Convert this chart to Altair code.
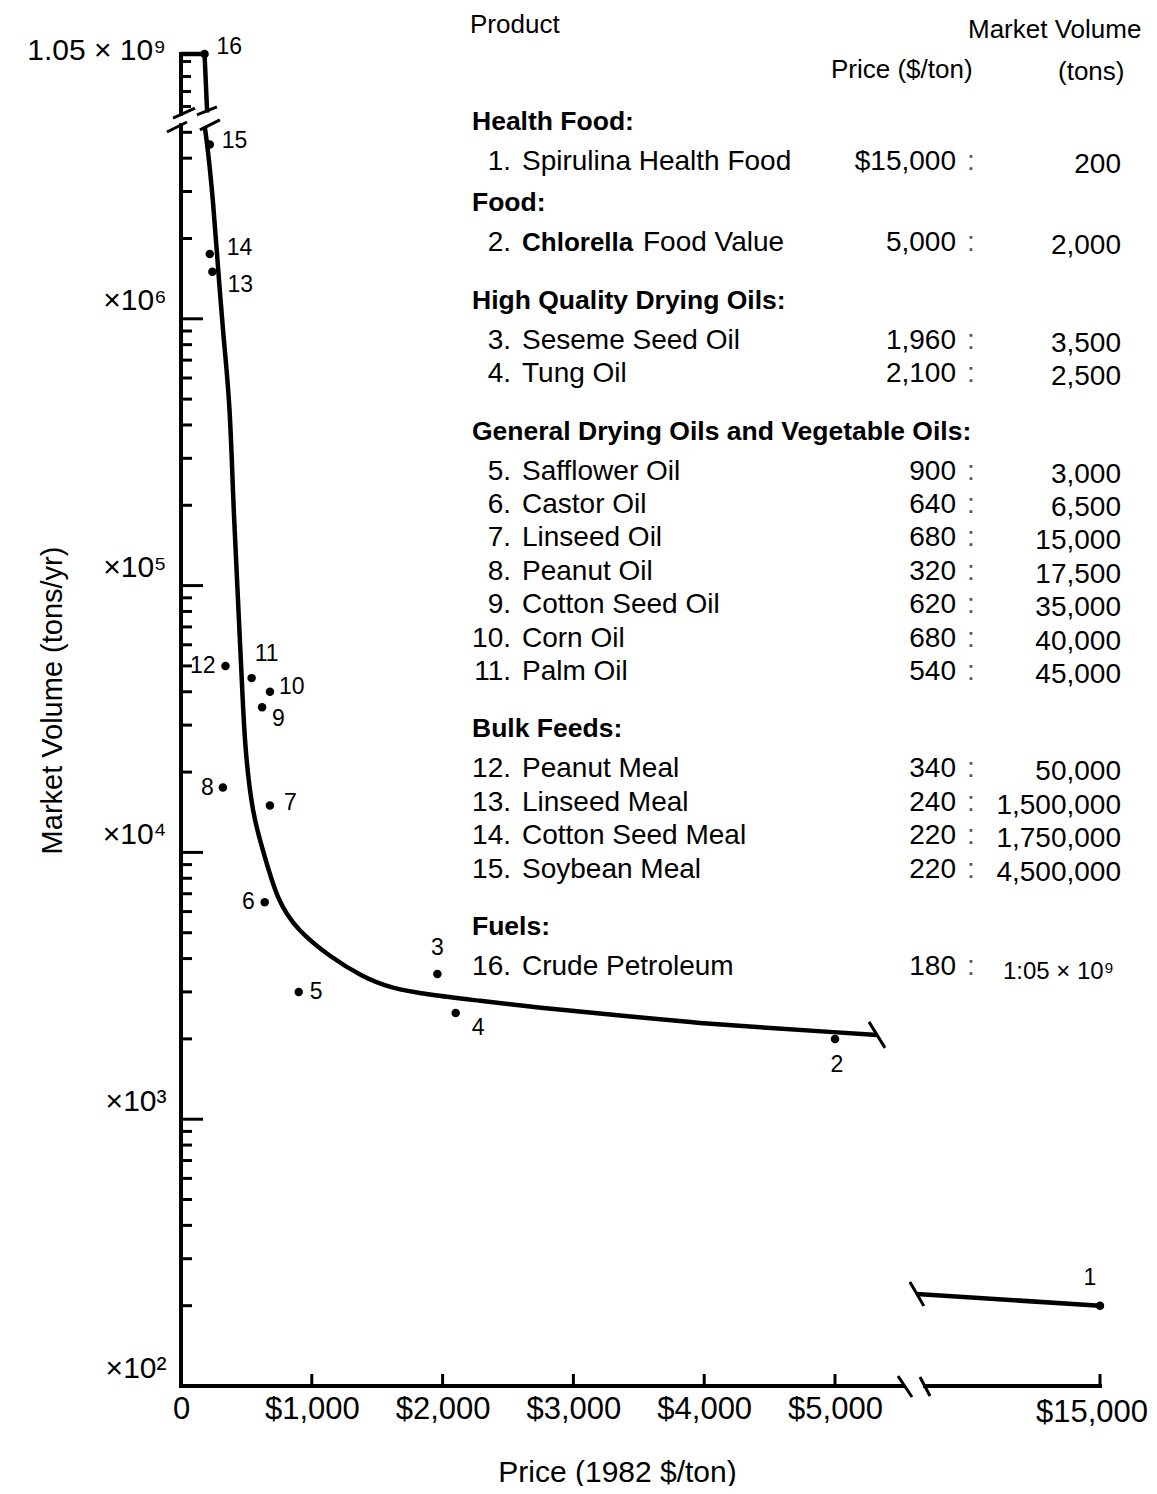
import altair as alt
import pandas as pd

# ---------------- data ----------------
product_ids = list(range(1, 17))
product_names = ["Spirulina Health Food", "Chlorella Food Value", "Seseme Seed Oil", "Tung Oil",
                 "Safflower Oil", "Castor Oil", "Linseed Oil", "Peanut Oil", "Cotton Seed Oil",
                 "Corn Oil", "Palm Oil", "Peanut Meal", "Linseed Meal", "Cotton Seed Meal",
                 "Soybean Meal", "Crude Petroleum"]
prices = [15000, 5000, 1960, 2100, 900, 640, 680, 320, 620, 680, 540, 340, 240, 220, 220, 180]
volumes = [200, 2000, 3500, 2500, 3000, 6500, 15000, 17500, 35000, 40000, 45000, 50000,
           1500000, 1750000, 4500000, 1.05e9]
price_labels = ["$15,000", "5,000", "1,960", "2,100", "900", "640", "680", "320", "620", "680",
                "540", "340", "240", "220", "220", "180"]
volume_labels = ["200", "2,000", "3,500", "2,500", "3,000", "6,500", "15,000", "17,500", "35,000",
                 "40,000", "45,000", "50,000", "1,500,000", "1,750,000", "4,500,000", "1:05 × 10⁹"]
group_names = ["Health Food:", "Food:", "High Quality Drying Oils:",
               "General Drying Oils and Vegetable Oils:", "Bulk Feeds:", "Fuels:"]
product_group = [0, 1, 2, 2, 3, 3, 3, 3, 3, 3, 3, 4, 4, 4, 4, 5]

# hand-drawn trend curve
curve_prices = [183, 206, 245, 283, 321, 375, 398, 436, 466, 489, 550, 627, 734, 887, 1139,
                1391, 1598, 1904, 2286, 2668, 2951, 3456, 3968, 4480, 4985, 5321]
curve_volumes = [5.19e6, 4.30e6, 2.79e6, 1.56e6, 8.85e5, 4.83e5, 2.09e5, 8.83e4, 4.32e4, 2.42e4,
                 1.36e4, 1.02e4, 6.62e3, 5.12e3, 4.06e3, 3.41e3, 3.10e3, 2.92e3, 2.78e3, 2.64e3,
                 2.56e3, 2.42e3, 2.29e3, 2.20e3, 2.12e3, 2.07e3]
upper_curve_prices = [0, 180, 200]
upper_curve_volumes = [1.05e9, 1.05e9, 0.66e9]
spirulina_curve_prices = [13600, 15000]
spirulina_curve_volumes = [221, 200]

x_label_values = [0, 1000, 2000, 3000, 4000, 5000]
y_label_values = [1e2, 1e3, 1e4, 1e5, 1e6]
y_label_texts = ["×10²", "×10³", "×10⁴", "×10⁵", "×10⁶"]
upper_tick_values = [1.0e9, 0.9e9, 0.8e9, 0.7e9]

# ---------------- layout constants ----------------
FONT = "Liberation Sans"
OX, OY = 181, 52            # page position of the plot origin
W, H = 934, 1334
PX_PER_USD = 0.1308
TOP_PX_PER_UNIT = 150 / 1e9
MAIN_X_END = 5520
MAIN_Y_END = 5.32e6
UPPER_Y_END = 0.65e9
RIGHT_X_START = 13662

XM = alt.Scale(domain=[0, W / PX_PER_USD], nice=False, zero=False)
YM = alt.Scale(type="log", domain=[100, 1e7], nice=False)
top_hi = 1.05e9 + 2 / TOP_PX_PER_UNIT
YT = alt.Scale(domain=[top_hi - H / TOP_PX_PER_UNIT, top_hi], nice=False, zero=False)
XR = alt.Scale(domain=[15000 - (1100 - OX) / PX_PER_USD, 15000 + (OX + W - 1100) / PX_PER_USD],
               nice=False, zero=False)

ylabel_expr = " : ".join(f"datum.value < {v * 3:g} ? '{t}'" for v, t in zip(y_label_values, y_label_texts)) + " : ''"

AXIS_X = alt.Axis(values=x_label_values,
                  labelExpr="datum.value == 0 ? '0' : '$' + format(datum.value, ',')",
                  domain=False, ticks=False, grid=False, labelFont=FONT, labelFontSize=31,
                  labelColor="black", labelPadding=8, labelFlush=False, labelOverlap=False,
                  title="Price (1982 $/ton)", titleFont=FONT, titleFontSize=30,
                  titleFontWeight="normal", titleColor="black", titleX=436, titleY=86,
                  titleBaseline="middle")
AXIS_Y = alt.Axis(values=y_label_values, labelExpr=ylabel_expr, domain=False, ticks=False,
                  grid=False, labelFont=FONT, labelFontSize=30, labelColor="black",
                  labelPadding=15, labelOffset=-18, labelFlush=False, labelOverlap=False,
                  title="Market Volume (tons/yr)", titleFont=FONT, titleFontSize=29,
                  titleFontWeight="normal", titleColor="black", titleX=-129, titleY=648,
                  titleAngle=270, titleBaseline="middle")


def xm(f="price"):
    return alt.X(f"{f}:Q", scale=XM, axis=AXIS_X)


def ym(f="volume"):
    return alt.Y(f"{f}:Q", scale=YM, axis=AXIS_Y)


def xt(f="price"):
    return alt.X(f"{f}:Q", scale=XM, axis=None)


def yt(f="volume"):
    return alt.Y(f"{f}:Q", scale=YT, axis=None)


def xr(f="price"):
    return alt.X(f"{f}:Q", scale=XR, axis=None)


def yr(f="volume"):
    return alt.Y(f"{f}:Q", scale=YM, axis=None)


points = pd.DataFrame({"id": product_ids, "price": prices, "volume": volumes,
                       "label": [str(i) for i in product_ids]})
curve = pd.DataFrame({"price": curve_prices, "volume": curve_volumes})
upper_curve = pd.DataFrame({"price": upper_curve_prices, "volume": upper_curve_volumes})
spirulina_curve = pd.DataFrame({"price": spirulina_curve_prices, "volume": spirulina_curve_volumes})

minor_y = [m * 10 ** e for e in range(2, 7) for m in range(2, 10) if m * 10 ** e <= MAIN_Y_END]
major_y = [1e3, 1e4, 1e5, 1e6]


def seg(**cols):
    return pd.DataFrame({k: [v] for k, v in cols.items()})


STROKE = dict(color="black", strokeWidth=4, strokeCap="square")
LINE_W = 4.5
DOT = 72

# ---------------- main panel ----------------
main_layers = []
main_layers.append(alt.Chart(seg(price=0, volume=100, v2=MAIN_Y_END)).mark_rule(**STROKE)
                   .encode(x=xm(), y=ym(), y2="v2:Q"))
main_layers.append(alt.Chart(seg(price=0, p2=MAIN_X_END, volume=100)).mark_rule(**STROKE)
                   .encode(x=xm(), x2="p2:Q", y=ym()))
main_layers.append(alt.Chart(pd.DataFrame({"price": 0, "volume": minor_y}))
                   .mark_rule(color="black", strokeWidth=3, x2Offset=11)
                   .encode(x=xm(), x2="price:Q", y=ym(), y2="volume:Q"))
main_layers.append(alt.Chart(pd.DataFrame({"price": 0, "volume": major_y}))
                   .mark_rule(color="black", strokeWidth=3, x2Offset=22)
                   .encode(x=xm(), x2="price:Q", y=ym(), y2="volume:Q"))
main_layers.append(alt.Chart(pd.DataFrame({"price": x_label_values[1:], "volume": 100}))
                   .mark_rule(color="black", strokeWidth=3, y2Offset=-12)
                   .encode(x=xm(), y=ym(), y2="volume:Q"))
main_layers.append(alt.Chart(curve).mark_line(color="black", strokeWidth=LINE_W, interpolate="basis")
                   .encode(x=xm(), y=ym()))
main_layers.append(alt.Chart(points).transform_filter("datum.id != 1 && datum.id != 16")
                   .mark_circle(size=DOT, color="black", opacity=1).encode(x=xm(), y=ym()))

label_style = {2: ("center", 2, 26), 3: ("center", 0, -26), 4: ("left", 16, 15),
               5: ("left", 11, 0), 6: ("right", -10, 0), 7: ("left", 14, -2),
               8: ("right", -9, 0), 9: ("left", 10, 12), 10: ("left", 9, -5),
               11: ("center", 15, -24), 12: ("right", -10, 0), 13: ("left", 15, 13),
               14: ("left", 17, -6), 15: ("left", 12, -4)}
for pid, (al, dx, dy) in label_style.items():
    main_layers.append(alt.Chart(points).transform_filter(f"datum.id == {pid}")
                       .mark_text(align=al, dx=dx, dy=dy, font=FONT, fontSize=23, color="black")
                       .encode(x=xm(), y=ym(), text="label:N"))


def slash(x_enc, y_enc, x2f, y2f, data, ox1, oy1, ox2, oy2):
    return (alt.Chart(data)
            .mark_rule(color="black", strokeWidth=3, xOffset=ox1, yOffset=oy1,
                       x2Offset=ox2, y2Offset=oy2)
            .encode(x=x_enc, x2=x2f, y=y_enc, y2=y2f))


axis_break = seg(price=0, volume=5.56e6)
curve_break = seg(price=206, volume=5.66e6)
curve_end = seg(price=5321, volume=2.07e3)
xaxis_break = seg(price=5535, volume=100)
main_layers += [
    slash(xm(), ym(), "price:Q", "volume:Q", axis_break, -8, -2, 14, -12),
    slash(xm(), ym(), "price:Q", "volume:Q", axis_break, -14, 12, 6, 2),
    slash(xm(), ym(), "price:Q", "volume:Q", curve_break, -11, -3, 9, -11),
    slash(xm(), ym(), "price:Q", "volume:Q", curve_break, -8, 12, 12, 2),
    slash(xm(), ym(), "price:Q", "volume:Q", curve_end, -8, -13, 8, 13),
    slash(xm(), ym(), "price:Q", "volume:Q", xaxis_break, -7, -10, 7, 11),
]
main = alt.layer(*main_layers)

# ---------------- upper (broken) segment ----------------
upper = alt.layer(
    alt.Chart(seg(price=0, volume=1.05e9, v2=UPPER_Y_END)).mark_rule(**STROKE)
    .encode(x=xt(), y=yt(), y2="v2:Q"),
    alt.Chart(pd.DataFrame({"price": 0, "volume": upper_tick_values}))
    .mark_rule(color="black", strokeWidth=3, x2Offset=10)
    .encode(x=xt(), x2="price:Q", y=yt(), y2="volume:Q"),
    alt.Chart(upper_curve).mark_line(color="black", strokeWidth=LINE_W).encode(x=xt(), y=yt()),
    alt.Chart(points).transform_filter("datum.id == 16")
    .mark_circle(size=DOT, color="black", opacity=1).encode(x=xt(), y=yt()),
    alt.Chart(points).transform_filter("datum.id == 16")
    .mark_text(align="left", dx=12, dy=-7, font=FONT, fontSize=23, color="black")
    .encode(x=xt(), y=yt(), text="label:N"),
    alt.Chart(seg(price=0, volume=1.05e9, t="1.05  ×   10⁹"))
    .mark_text(align="right", dx=-15, dy=-3, font=FONT, fontSize=30, color="black")
    .encode(x=xt(), y=yt(), text="t:N"),
)

# ---------------- right (broken) segment: Spirulina ----------------
right = alt.layer(
    alt.Chart(seg(price=RIGHT_X_START, p2=15000, volume=100)).mark_rule(**STROKE)
    .encode(x=xr(), x2="p2:Q", y=yr()),
    alt.Chart(seg(price=15000, volume=100)).mark_rule(color="black", strokeWidth=3, y2Offset=-12)
    .encode(x=xr(), y=yr(), y2="volume:Q"),
    slash(xr(), yr(), "price:Q", "volume:Q", seg(price=RIGHT_X_START, volume=100), -5, -9, 5, 10),
    alt.Chart(spirulina_curve).mark_line(color="black", strokeWidth=LINE_W).encode(x=xr(), y=yr()),
    slash(xr(), yr(), "price:Q", "volume:Q", seg(price=13600, volume=221), -7, -12, 7, 12),
    alt.Chart(points).transform_filter("datum.id == 1")
    .mark_circle(size=DOT, color="black", opacity=1).encode(x=xr(), y=yr()),
    alt.Chart(points).transform_filter("datum.id == 1")
    .mark_text(align="center", dx=-10, dy=-28, font=FONT, fontSize=23, color="black")
    .encode(x=xr(), y=yr(), text="label:N"),
    alt.Chart(seg(price=15000, volume=100, t="$15,000"))
    .mark_text(align="center", dx=-8, dy=27, font=FONT, fontSize=31, color="black")
    .encode(x=xr(), y=yr(), text="t:N"),
)

# ---------------- table ----------------
ITEM_STEP = 33.4
y = 122.0
header_rows = []
item_y = {}
for g, name in enumerate(group_names):
    if g > 0:
        y += ITEM_STEP + (8 if g == 1 else 24)
    header_rows.append({"text": name, "ty": y - OY})
    y += 40
    first = True
    for pid, grp in zip(product_ids, product_group):
        if grp == g:
            if not first:
                y += ITEM_STEP
            item_y[pid] = y
            first = False

table_df = pd.DataFrame({
    "id": product_ids,
    "num": [f"{i}." for i in product_ids],
    "name": product_names,
    "ptxt": price_labels,
    "vtxt": volume_labels,
    "ty": [item_y[i] - OY for i in product_ids],
})
headers_df = pd.DataFrame(header_rows)
col_heads = pd.DataFrame({"text": ["Product", "Market Volume", "Price ($/ton)", "(tons)"],
                          "ty": [25 - OY, 30 - OY, 70 - OY, 72 - OY],
                          "tx": [470 - OX, 968 - OX, 831 - OX, 1058 - OX]})

TY = alt.Y("ty:Q", scale=None, axis=None)
TFS = 28


def tcol(data, field, px, align="left", weight="normal", size=TFS, dy=0, color="black", flt=None):
    c = alt.Chart(data)
    if flt:
        c = c.transform_filter(flt)
    return c.mark_text(align=align, font=FONT, fontSize=size, fontWeight=weight, dy=dy,
                       color=color).encode(x=alt.value(px - OX), y=TY, text=f"{field}:N")


chlorella_y = item_y[2] - OY
table = alt.layer(
    alt.Chart(col_heads).mark_text(align="left", font=FONT, fontSize=26, color="black")
    .encode(x=alt.X("tx:Q", scale=None, axis=None), y=TY, text="text:N"),
    tcol(headers_df, "text", 472, weight="bold", size=26.5),
    tcol(table_df, "num", 511, align="right"),
    tcol(table_df, "name", 522, flt="datum.id != 2"),
    tcol(pd.DataFrame({"t": ["Chlorella"], "ty": [chlorella_y]}), "t", 522, weight="bold", size=26),
    tcol(pd.DataFrame({"t": ["Food Value"], "ty": [chlorella_y]}), "t", 643),
    tcol(table_df, "ptxt", 956, align="right"),
    tcol(table_df.assign(c=":"), "c", 971, align="center", color="#555"),
    tcol(table_df, "vtxt", 1121, align="right", dy=3, flt="datum.id != 16"),
    tcol(table_df, "vtxt", 1114, align="right", dy=5, size=24, flt="datum.id == 16"),
)

chart = (
    alt.layer(main, upper, right, table)
    .resolve_scale(x="independent", y="independent")
    .properties(width=W, height=H, autosize=alt.AutoSizeParams(type="none"),
                padding={"left": OX - 8, "top": OY - 8, "right": 34, "bottom": 100},
                background="white")
    .configure_view(stroke=None)
)

chart.save("out.html", embed_options={"renderer": "svg", "actions": False})
